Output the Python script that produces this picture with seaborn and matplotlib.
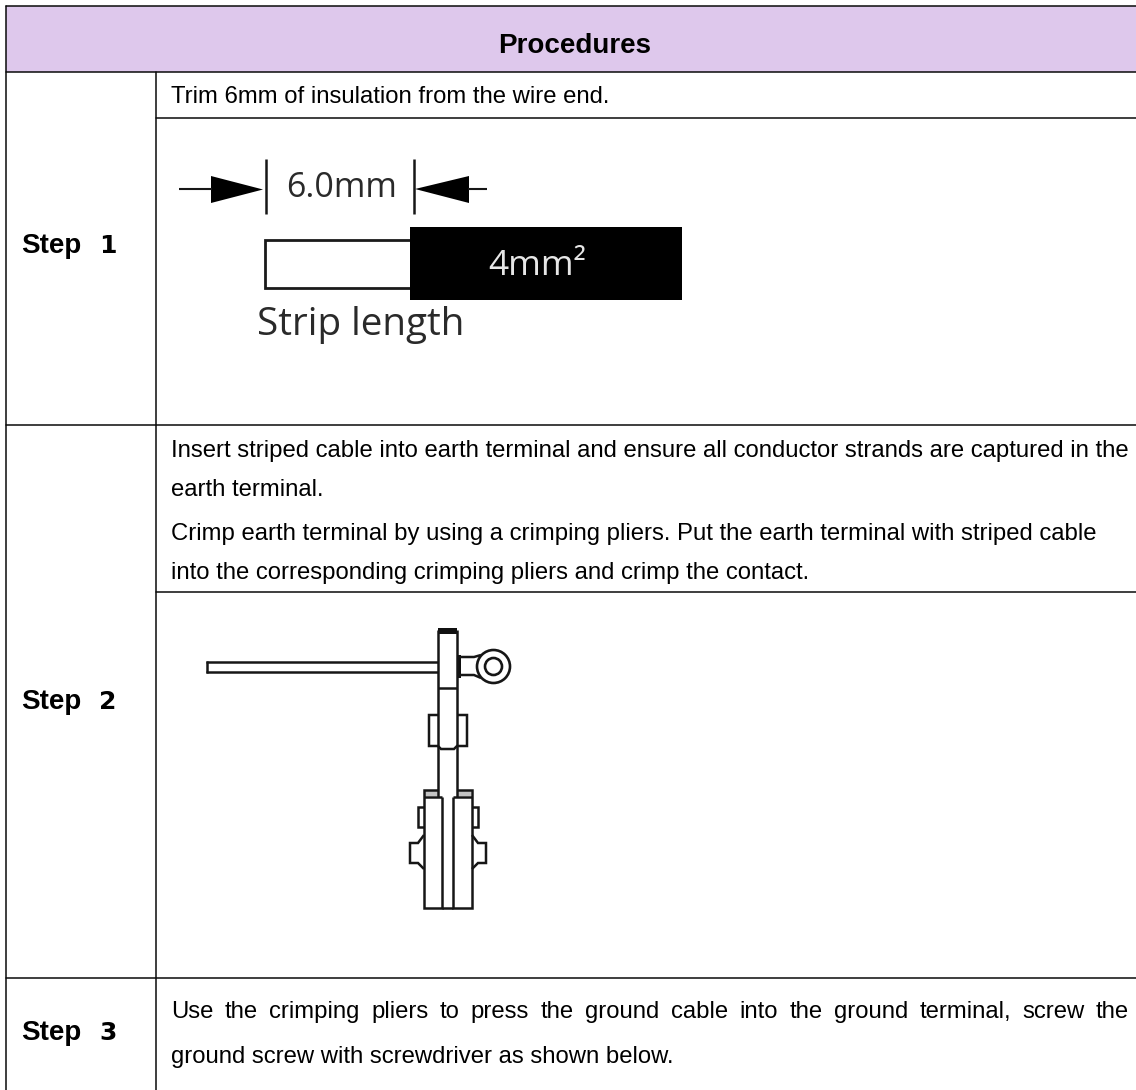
import matplotlib
matplotlib.use('Agg')
import matplotlib.pyplot as plt
from matplotlib.patches import Rectangle, Circle, Polygon
import pandas as pd
import seaborn as sns

# table contents
header = 'Procedures'
step_words = ['Step', 'Step', 'Step']
step_nums = ['1', '2', '3']
step1_text = ['Trim 6mm of insulation from the wire end.']
step2_text = ['Insert striped cable into earth terminal and ensure all conductor strands are captured in the',
              'earth terminal.',
              'Crimp earth terminal by using a crimping pliers. Put the earth terminal with striped cable',
              'into the corresponding crimping pliers and crimp the contact.']
step3_text = ['Use the crimping pliers to press the ground cable into the ground terminal, screw the',
              'ground screw with screwdriver as shown below.']
strip_labels = ['6.0mm', '4mm\u00b2', 'Strip length']

sns.set_theme(style='white')
plt.rcParams['font.family'] = ['Liberation Sans', 'DejaVu Sans']

W, H = 1136, 1090
BODY = 17.2
fig = plt.figure(figsize=(W / 100, H / 100), dpi=100)
ax = fig.add_axes([0, 0, 1, 1])
ax.set_xlim(0, W)
ax.set_ylim(H, 0)
ax.axis('off')

# header band
ax.add_patch(Rectangle((6, 6), W - 6, 66, facecolor='#dec8ec', edgecolor='none'))

# table rules, drawn as one long table for seaborn
rules = [(6, 6, W, 6), (6, 72, W, 72), (155.5, 118, W, 118),
         (6, 425, W, 425), (155.5, 592, W, 592), (6, 978, W, 978),
         (6, 6, 6, H), (155.5, 72, 155.5, H)]
rows = []
for i, (x0, y0, x1, y1) in enumerate(rules):
    rows.append({'rule': i, 'x': x0, 'y': y0})
    rows.append({'rule': i, 'x': x1, 'y': y1})
rule_df = pd.DataFrame(rows)
sns.lineplot(data=rule_df, x='x', y='y', units='rule', estimator=None, sort=False,
             color='#0a0a0a', linewidth=1.1, ax=ax, legend=False)
ax.set_xlim(0, W)
ax.set_ylim(H, 0)
ax.axis('off')

renderer = fig.canvas.get_renderer()


def justified(line, x0, x1, y, size=BODY):
    # word by word so the gaps fill the cell, like the justified line in the original
    words = line.split(' ')
    items = [ax.text(x0, y, w, fontsize=size, color='black', va='baseline') for w in words]
    widths = [t.get_window_extent(renderer).width for t in items]
    gap = (x1 - x0 - sum(widths)) / (len(words) - 1)
    x = x0
    for t, w in zip(items, widths):
        t.set_x(x)
        x += w + gap


def stroke(xs, ys, lw=1.8, color='#161616'):
    ax.plot(xs, ys, color=color, linewidth=lw, solid_capstyle='butt', solid_joinstyle='miter', zorder=4)


# text
ax.text(574.5, 53, header, fontsize=20, fontweight='bold', ha='center', va='baseline', color='black')
for word, num, y in zip(step_words, step_nums, [253, 709, 1040]):
    ax.text(21, y, word, fontsize=20, fontweight='bold', va='baseline', color='black')
    ax.text(99, y, num, fontsize=18, fontweight='bold', va='baseline', color='black',
            family='DejaVu Sans')

ax.text(171, 103, step1_text[0], fontsize=BODY, va='baseline', color='black')
ax.text(171, 457, step2_text[0], fontsize=BODY, va='baseline', color='black')
ax.text(171, 496, step2_text[1], fontsize=BODY, va='baseline', color='black')
ax.text(171, 540, step2_text[2], fontsize=BODY, va='baseline', color='black')
ax.text(171, 579, step2_text[3], fontsize=BODY, va='baseline', color='black')
justified(step3_text[0], 171, 1129, 1018)
ax.text(171, 1063, step3_text[1], fontsize=BODY, va='baseline', color='black')

# strip length sketch
stroke([179, 212], [189, 189], 1.5)
ax.add_patch(Polygon([(211, 176), (263, 189.5), (211, 203)], facecolor='black', edgecolor='none'))
stroke([266, 266], [159, 214], 1.8)
stroke([414, 414], [159, 214], 1.8)
ax.add_patch(Polygon([(415, 189), (469, 176), (469, 203)], facecolor='black', edgecolor='none'))
stroke([468, 487], [189, 189], 1.5)
ax.add_patch(Rectangle((264.5, 240), 146, 48, facecolor='white', edgecolor='#1a1a1a', linewidth=2))
ax.add_patch(Rectangle((410, 227), 272, 73, facecolor='black', edgecolor='none'))
ax.text(286, 197, strip_labels[0], fontsize=24.5, color='#2a2a2a', family='Open Sans', va='baseline')
ax.text(488, 275, strip_labels[1], fontsize=25.5, color='#e6e6e6', family='Open Sans', va='baseline')
ax.text(257, 335, strip_labels[2], fontsize=27.8, color='#2a2a2a', family='Open Sans', va='baseline')

# crimping sketch: cable
stroke([206, 438], [662, 662])
stroke([206, 438], [671.5, 671.5])
stroke([206.5, 206.5], [661, 672.5])
# terminal head and stems
stroke([438, 438], [630, 797])
stroke([457, 457], [630, 797])
ax.add_patch(Rectangle((438, 628), 19, 5.5, facecolor='#111111', edgecolor='none'))
stroke([438, 457], [688, 688])
ax.add_patch(Rectangle((457, 655), 3.5, 23, facecolor='#111111', edgecolor='none'))
# ring lug
stroke([459, 474, 481], [657, 657, 655])
stroke([459, 474, 481], [675, 675, 678])
ax.add_patch(Circle((493.5, 666.5), 16.5, facecolor='white', edgecolor='#161616', linewidth=1.9, zorder=5))
ax.add_patch(Circle((493.5, 666.5), 8.5, facecolor='white', edgecolor='#161616', linewidth=1.9, zorder=5))
# collar
stroke([438, 429, 429, 438, 441, 454, 457, 467, 467, 457],
       [715, 715, 746, 746, 749, 749, 746, 746, 715, 715])
# jaws
stroke([442, 442, 424, 424, 438], [797, 908, 908, 790, 790])
stroke([453, 453, 472, 472, 457], [797, 908, 908, 790, 790])
stroke([442, 453], [908, 908])
stroke([424, 442], [797, 797])
stroke([453, 472], [797, 797])
ax.add_patch(Rectangle((425, 791), 13, 5, facecolor='#c4c4c4', edgecolor='none'))
ax.add_patch(Rectangle((458, 791), 13, 5, facecolor='#c4c4c4', edgecolor='none'))
for sign, edge in [(-1, 424), (1, 472)]:
    stroke([edge, edge + sign * 6, edge + sign * 6, edge], [807, 807, 827, 827])
    stroke([edge, edge + sign * 6, edge + sign * 14, edge + sign * 14, edge + sign * 6, edge],
           [835, 843, 843, 863, 863, 869])

fig.savefig('out.png', dpi=100)
